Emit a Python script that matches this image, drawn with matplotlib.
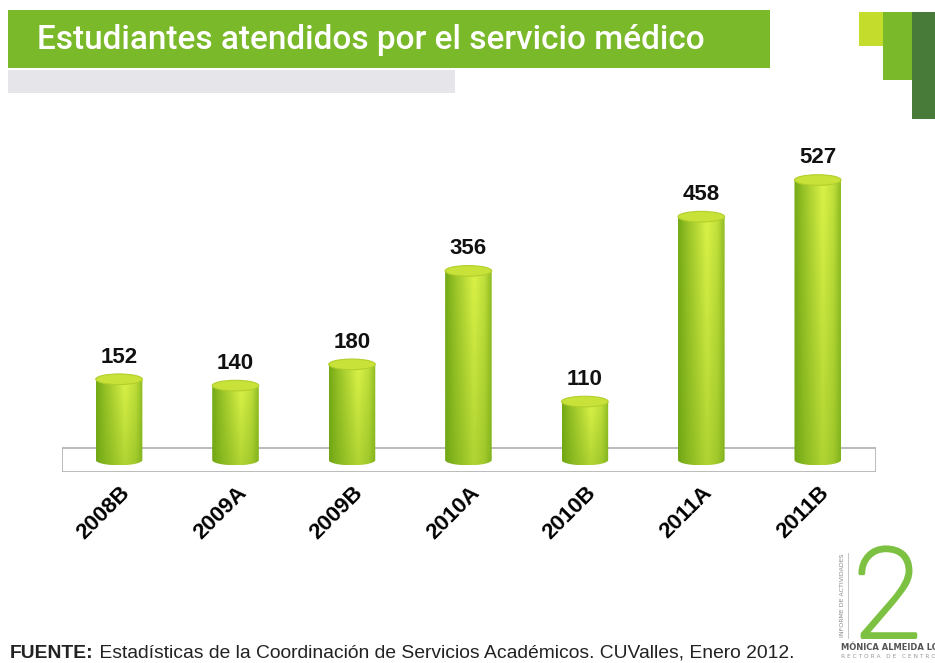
import matplotlib
matplotlib.use("Agg")
import matplotlib.pyplot as plt
import matplotlib.patheffects as pe
import numpy as np
from matplotlib.patches import Rectangle, Ellipse, PathPatch
from matplotlib.path import Path
from matplotlib.transforms import ScaledTranslation

semestres = ['2008B', '2009A', '2009B', '2010A', '2010B', '2011A', '2011B']
atendidos = [152, 140, 180, 356, 110, 458, 527]

titulo = 'Estudiantes atendidos por el servicio médico'
fuente_b = 'FUENTE:'
fuente = ' Estadísticas de la Coordinación de Servicios Académicos. CUValles, Enero 2012.'

W, H = 935, 663
fig = plt.figure(figsize=(W / 100, H / 100), dpi=100)
fig.patch.set_facecolor('white')


def px(x, y):
    # pixel (from top-left) -> figure fraction
    return x / W, 1 - y / H


def caja(x0, y0, x1, y1, color, **kw):
    fx, fy = px(x0, y1)
    fig.add_artist(Rectangle((fx, fy), (x1 - x0) / W, (y1 - y0) / H,
                             transform=fig.transFigure, facecolor=color,
                             edgecolor='none', **kw))


# encabezado
caja(8, 10, 770, 68, '#7ab929')
caja(8, 70, 455, 93, '#e6e6ea')
caja(859, 12, 883, 46, '#c4dc2c')
caja(883, 12, 912, 80, '#7ab929')
caja(912, 12, 935, 119, '#487a3a')
fig.text(*px(37, 40), titulo, color='white', fontsize=24,
         family='Roboto', fontweight='medium', va='center', ha='left')

# grafica de cilindros
ax = fig.add_axes([62 / W, (H - 472) / H, (876 - 62) / W, 352 / H])
ax.set_xlim(-0.49, 6.5)
ax.set_ylim(-22.6, 640)
for s in ax.spines.values():
    s.set_visible(False)
ax.set_yticks([])

ax.add_patch(Rectangle((-0.49, -22.6), 6.99, 45.2, facecolor='white',
                       edgecolor='#b5b5b5', lw=1.3, zorder=1))

w = 0.2
ry = 10
oscuro = np.array([0.42, 0.64, 0.07])
claro = np.array([0.86, 0.95, 0.28])
t = np.linspace(0, 1, 60)
perfil = np.interp(t, [0, 0.2, 0.62, 0.85, 1], [0.08, 0.4, 1.0, 0.75, 0.32])

for i, v in enumerate(atendidos):
    th = np.linspace(np.pi, 2 * np.pi, 40)
    pts = np.column_stack([i + w * np.cos(th), ry * np.sin(th)])
    pts = np.vstack([pts, [[i + w, v], [i - w, v], [i - w, 0]]])
    cuerpo = PathPatch(Path(pts), facecolor='none', edgecolor='none',
                       transform=ax.transData)
    ax.add_patch(cuerpo)
    u = np.linspace(1, 0, 80)[:, None]
    mezcla = perfil[None, :] * (0.62 + 0.38 * u)
    img = oscuro + (claro - oscuro) * mezcla[..., None]
    im = ax.imshow(img, extent=[i - w, i + w, -ry, v], aspect='auto',
                   interpolation='bilinear', zorder=2)
    im.set_clip_path(cuerpo)
    ax.add_patch(Ellipse((i, v), 2 * w, 2 * ry, facecolor='#c8e23a',
                         edgecolor='#b2cf2c', lw=0.8, zorder=3))
    ax.annotate(str(v), (i, v), xytext=(0, 16), textcoords='offset points',
                ha='center', va='center', fontsize=16, fontweight='bold',
                family='Liberation Sans', color='#111111')

ax.set_xticks(range(len(semestres)))
ax.set_xticklabels(semestres, rotation=45, ha='right', va='center',
                   rotation_mode='anchor', fontsize=16, fontweight='bold',
                   family='Liberation Sans')
ax.tick_params(axis='x', length=0, pad=13)
for lab in ax.get_xticklabels():
    lab.set_transform(lab.get_transform() +
                      ScaledTranslation(0.08, 0, fig.dpi_scale_trans))
ax.set_xlim(-0.49, 6.5)
ax.set_ylim(-22.6, 640)

# fuente
fb = fig.text(*px(10, 658), fuente_b, fontsize=13.9, fontweight='bold',
              family='Liberation Sans', color='#222222', va='baseline')
r = fig.canvas.get_renderer()
bb = fb.get_window_extent(r)
fig.text(bb.x1 / W, 1 - 658 / H, fuente, fontsize=13.9,
         family='Liberation Sans', color='#222222', va='baseline')

# logotipo del informe
fig.text(*px(853, 603), '2', fontsize=90, family='Roboto', fontweight='light',
         color='#7dc142', ha='left', va='center',
         path_effects=[pe.withStroke(linewidth=2.5, foreground='#7dc142')])
fig.add_artist(plt.Line2D([848 / W, 848 / W], [1 - 553 / H, 1 - 638 / H],
                          color='#bbbbbb', lw=0.6))
fig.text(*px(842, 595), 'INFORME DE ACTIVIDADES', rotation=90, fontsize=4.5,
         color='#888888', ha='center', va='center', family='DejaVu Sans')
fig.text(*px(841, 648), 'MÓNICA ALMEIDA LÓPEZ', fontsize=6, fontweight='bold',
         color='#555555', ha='left', va='center', family='DejaVu Sans')
fig.text(*px(841, 656), 'R E C T O R A   D E   C E N T R O', fontsize=4.2,
         color='#999999', ha='left', va='center', family='DejaVu Sans')

fig.savefig('out.png', dpi=100, facecolor='white')
